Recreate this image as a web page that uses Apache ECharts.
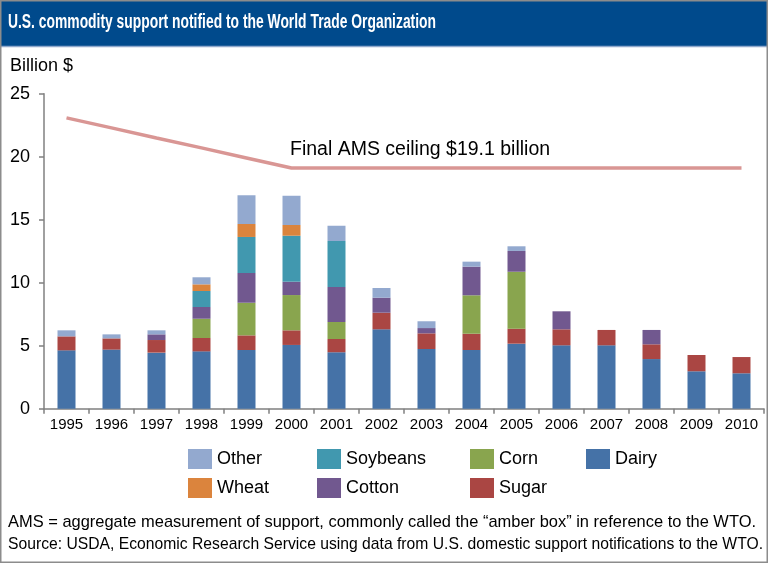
<!DOCTYPE html>
<html>
<head>
<meta charset="utf-8">
<script src="https://cdn.jsdelivr.net/npm/echarts@6/dist/echarts.min.js"></script>
<style>
html,body{margin:0;padding:0;background:#fff;}
#chart{width:768px;height:563px;}
</style>
</head>
<body>
<div id="chart"></div>
<script>
var years = ['1995','1996','1997','1998','1999','2000','2001','2002','2003','2004','2005','2006','2007','2008','2009','2010'];
var dairy    = [4.63, 4.69, 4.45, 4.55, 4.66, 5.06, 4.48, 6.30, 4.74, 4.66, 5.16, 5.03, 5.03, 3.94, 2.97, 2.81];
var sugar    = [1.11, 0.89, 1.00, 1.06, 1.16, 1.16, 1.05, 1.32, 1.24, 1.29, 1.19, 1.27, 1.22, 1.17, 1.29, 1.29];
var corn     = [0, 0, 0, 1.53, 2.59, 2.80, 1.35, 0, 0, 3.05, 4.52, 0, 0, 0, 0, 0];
var cotton   = [0, 0, 0.45, 0.93, 2.36, 1.06, 2.78, 1.19, 0.42, 2.27, 1.65, 1.43, 0, 1.14, 0, 0];
var soybeans = [0, 0, 0, 1.27, 2.86, 3.65, 3.65, 0, 0, 0, 0, 0, 0, 0, 0, 0];
var wheat    = [0, 0, 0, 0.53, 1.03, 0.85, 0, 0, 0, 0, 0, 0, 0, 0, 0, 0];
var other    = [0.48, 0.32, 0.32, 0.56, 2.28, 2.32, 1.21, 0.77, 0.54, 0.40, 0.37, 0, 0, 0, 0, 0];
var amsCeiling = [23.08, 22.29, 21.49, 20.70, 19.90, 19.10, 19.10, 19.10, 19.10, 19.10, 19.10, 19.10, 19.10, 19.10, 19.10, 19.10];
var yTicks = [0, 5, 10, 15, 20, 25];

var titleText = 'U.S. commodity support notified to the World Trade Organization';
var note1 = 'AMS = aggregate measurement of support, commonly called the \u201camber box\u201d in reference to the WTO.';
var note2 = 'Source: USDA, Economic Research Service using data from U.S. domestic support notifications to the WTO.';
var ceilingLabel = 'Final AMS ceiling $19.1 billion';

var FAMILY = 'Liberation Sans';
function measure(text, font) {
  var c = document.createElement('canvas').getContext('2d');
  c.font = font;
  return c.measureText(text).width;
}
var titleScale = 428 / measure(titleText, 'bold 21px "Liberation Sans"');
var note1Scale = 748 / measure(note1, '17px "Liberation Sans"');
var note2Scale = 755 / measure(note2, '17px "Liberation Sans"');

var colors = {
  Dairy: '#4572A7', Sugar: '#AA4643', Corn: '#89A54E', Cotton: '#71588F',
  Soybeans: '#4198AF', Wheat: '#DB843D', Other: '#93A9CF'
};
function barSeries(name, data) {
  return {
    name: name, type: 'bar', stack: 'total', data: data, barWidth: 18,
    itemStyle: { color: colors[name] }, emphasis: { disabled: true }
  };
}
function legendCol(left, names) {
  return {
    orient: 'vertical', left: left, top: 444, itemWidth: 24, itemHeight: 20, itemGap: 9,
    icon: 'rect', data: names, selectedMode: false,
    textStyle: { fontSize: 18, color: '#000', fontFamily: FAMILY }
  };
}

var chart = echarts.init(document.getElementById('chart'), null, { renderer: 'canvas' });
chart.setOption({
  animation: false,
  backgroundColor: '#fff',
  grid: { left: 44, right: 4, top: 93.7, bottom: 154.3, containLabel: false },
  legend: [
    legendCol(183, ['Other', 'Wheat']),
    legendCol(312, ['Soybeans', 'Cotton']),
    legendCol(465, ['Corn', 'Sugar']),
    legendCol(581, ['Dairy'])
  ],
  xAxis: {
    type: 'category', data: years, boundaryGap: true,
    axisLine: { lineStyle: { color: '#808080', width: 1.5 } },
    axisTick: { show: true, length: 5, lineStyle: { color: '#808080', width: 1.5 } },
    axisLabel: { fontSize: 15, color: '#000', margin: 9, fontFamily: FAMILY, interval: 0 }
  },
  yAxis: {
    type: 'value', min: yTicks[0], max: yTicks[yTicks.length - 1], interval: 5,
    splitLine: { show: false },
    axisLine: { show: true, lineStyle: { color: '#808080', width: 1.5 } },
    axisTick: { show: true, length: 5, lineStyle: { color: '#808080', width: 1.5 } },
    axisLabel: { fontSize: 18, color: '#000', margin: 14, fontFamily: FAMILY }
  },
  series: [
    barSeries('Dairy', dairy),
    barSeries('Sugar', sugar),
    barSeries('Corn', corn),
    barSeries('Cotton', cotton),
    barSeries('Soybeans', soybeans),
    barSeries('Wheat', wheat),
    barSeries('Other', other),
    {
      name: 'Final AMS ceiling', type: 'line', data: amsCeiling, symbol: 'none',
      lineStyle: { color: '#D99694', width: 3.5 }, itemStyle: { color: '#D99694' },
      emphasis: { disabled: true }, z: 5
    }
  ],
  graphic: [
    { type: 'rect', shape: { x: 0, y: 0, width: 768, height: 46 }, style: { fill: '#004A8C' }, z: 0 },
    { type: 'line', shape: { x1: 0, y1: 46.5, x2: 768, y2: 46.5 }, style: { stroke: '#8FA8CC', lineWidth: 1.5 } },
    { type: 'rect', shape: { x: 0.75, y: 0.75, width: 766.5, height: 561.5 }, style: { fill: 'none', stroke: '#8C8C8C', lineWidth: 1.5 }, z: 100 },
    { type: 'text', x: 8, y: 22, scaleX: titleScale,
      style: { text: titleText, fontSize: 21, fontWeight: 'bold', fontFamily: FAMILY, fill: '#fff', verticalAlign: 'middle', align: 'left' } },
    { type: 'text', x: 10, y: 66.5,
      style: { text: 'Billion $', fontSize: 18, fontFamily: FAMILY, fill: '#000', verticalAlign: 'middle', align: 'left' } },
    { type: 'text', x: 290, y: 150,
      style: { text: ceilingLabel, fontSize: 19.5, fontFamily: FAMILY, fill: '#000', verticalAlign: 'middle', align: 'left' } },
    { type: 'text', x: 8, y: 522, scaleX: note1Scale,
      style: { text: note1, fontSize: 17, fontFamily: FAMILY, fill: '#000', verticalAlign: 'middle', align: 'left' } },
    { type: 'text', x: 8, y: 544, scaleX: note2Scale,
      style: { text: note2, fontSize: 17, fontFamily: FAMILY, fill: '#000', verticalAlign: 'middle', align: 'left' } }
  ]
});
</script>
</body>
</html>
